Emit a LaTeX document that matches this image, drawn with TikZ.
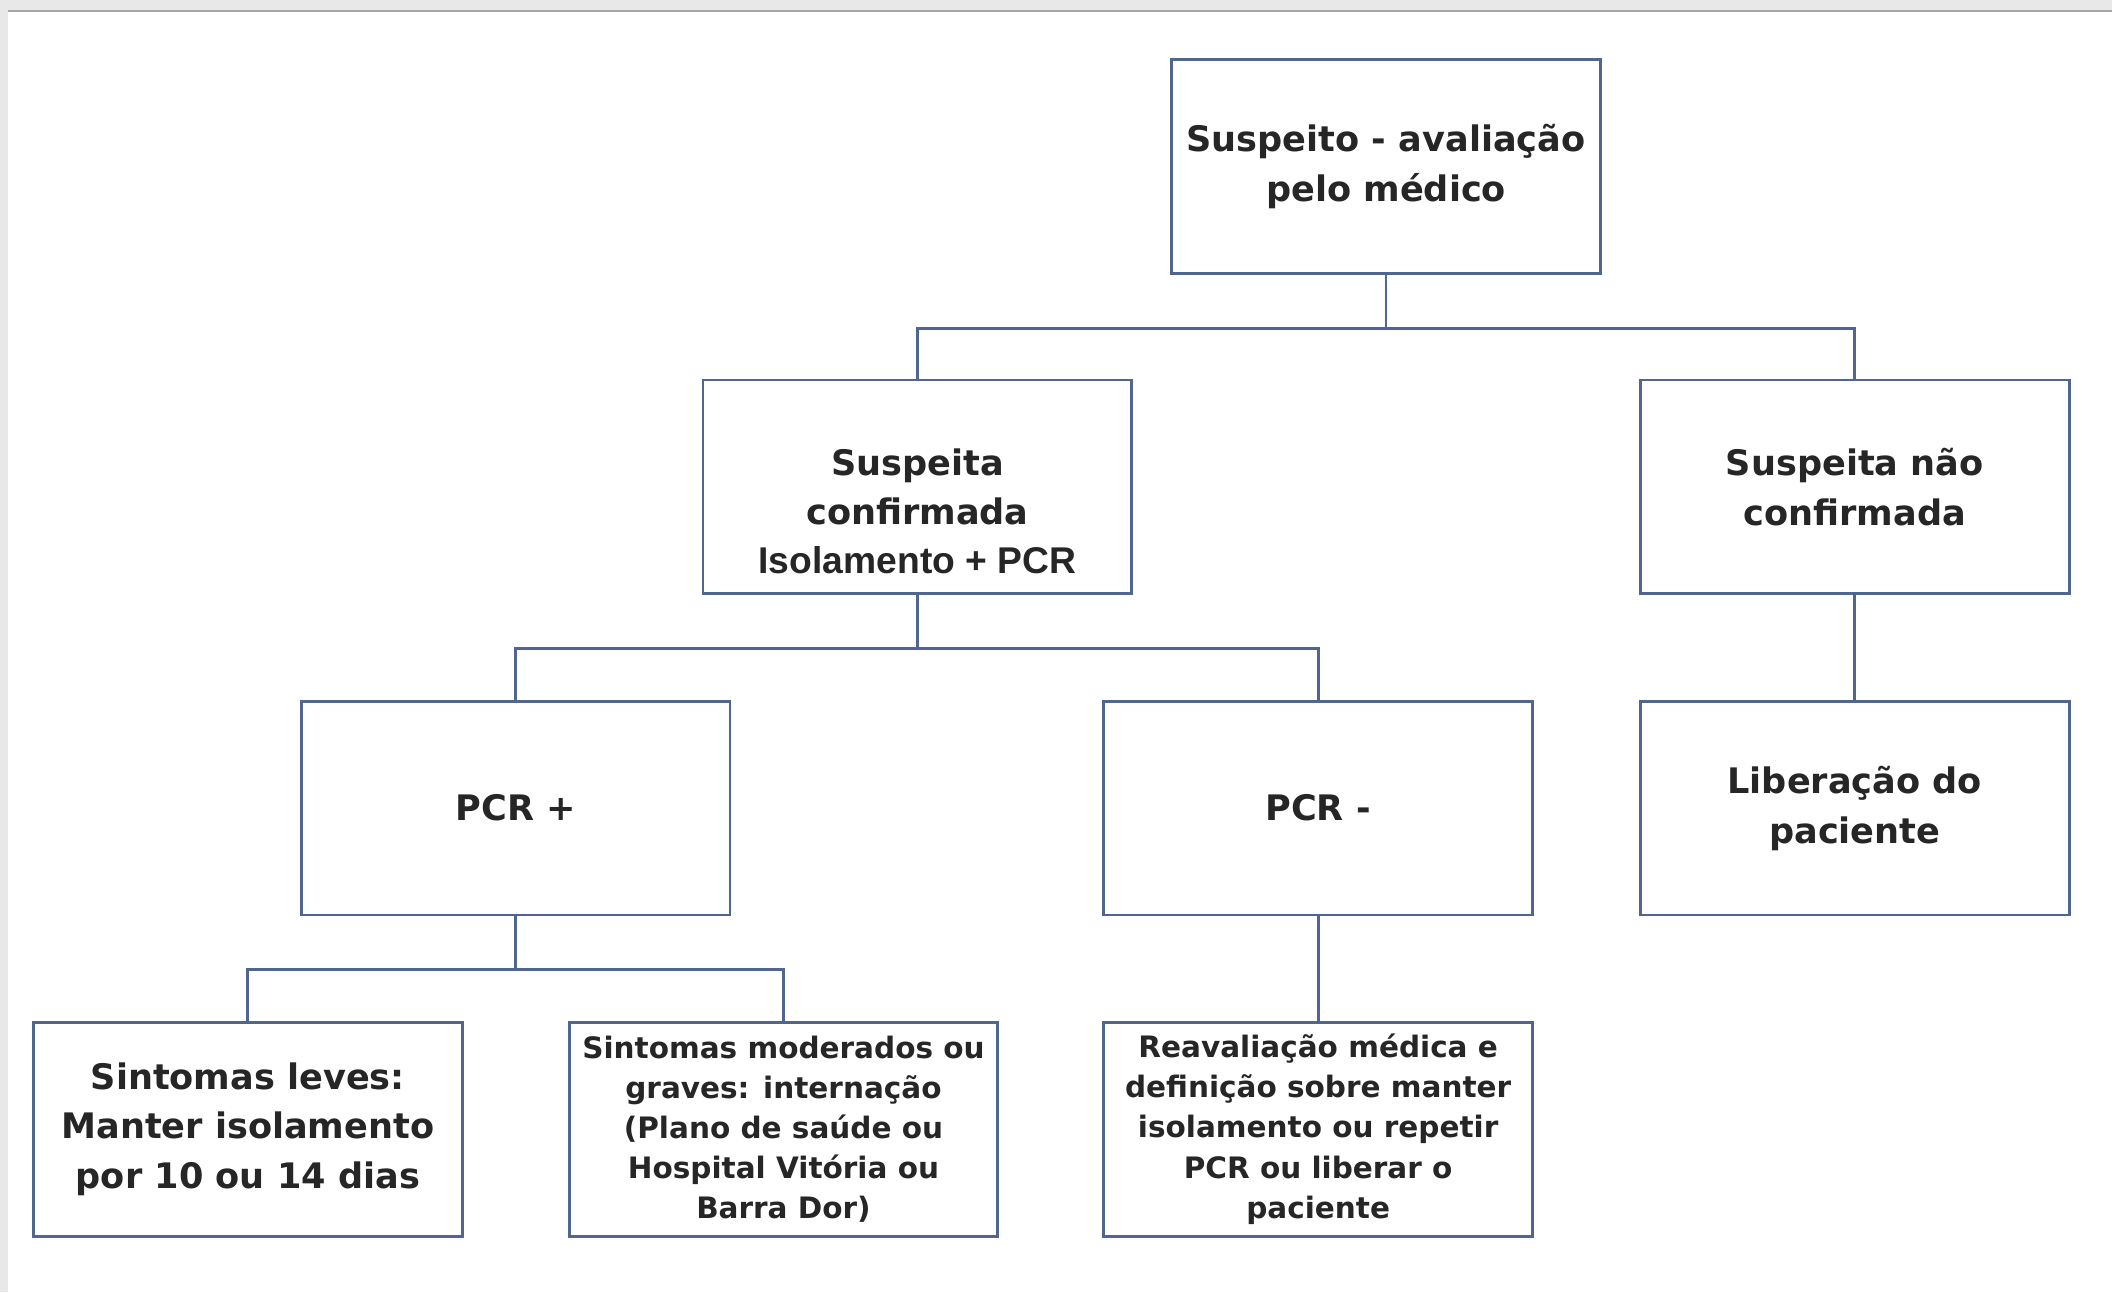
\documentclass[tikz,border=0pt]{standalone}
\usepackage{fontspec}
\setmainfont{DejaVu Sans}
\newfontfamily\arialfont{Liberation Sans}
\usepackage{tikz}
\usetikzlibrary{positioning}

\definecolor{boxline}{RGB}{80,102,142}
\definecolor{framegray}{RGB}{232,232,232}

\begin{document}
\begin{tikzpicture}[
    box/.style={rectangle, draw=boxline, line width=0.8pt, minimum width=4.29cm,
        minimum height=2.14cm, inner sep=0pt, align=center, text=black!85,
        font=\bfseries\fontsize{10}{14.2}\selectfont},
    smallbox/.style={box, font=\bfseries\fontsize{8.4}{11.4}\selectfont},
    link/.style={draw=boxline, line width=0.8pt}
]
    % Frame
    \fill[framegray] (0,0) rectangle (21.13,-12.93);
    \fill[white] (0.08,-0.11) rectangle (21.13,-12.93);
    \draw[gray!70, line width=0.8pt] (0.08,-0.11) -- (21.13,-0.11);
    \useasboundingbox (0,0) rectangle (21.13,-12.93);

    % Nodes
    \node[box] (susp) at (13.87, -1.664) {Suspeito - avaliação\\pelo médico};
    \node[box] (conf) at (9.18, -4.872) {Suspeita\\confirmada};
    \node[box] (naoconf) at (18.56, -4.872) {Suspeita não\\confirmada};
    \node[box] (pcrpos) at (5.16, -8.086) {PCR +};
    \node[box] (pcrneg) at (13.19, -8.086) {PCR -};
    \node[box] (liber) at (18.56, -8.086) {Liberação do\\paciente};
    \node[box] (leves) at (2.48, -11.30) {Sintomas leves:\\Manter isolamento\\por 10 ou 14 dias};
    \node[smallbox] (graves) at (7.84, -11.30) {Sintomas moderados ou\\graves: internação\\(Plano de saúde ou\\Hospital Vitória ou\\Barra Dor)};
    \node[smallbox] (reaval) at (13.19, -11.30) {Reavaliação médica e\\definição sobre manter\\isolamento ou repetir\\PCR ou liberar o\\paciente};

    % Additional labels
    \node[text=black!85, font=\arialfont\bfseries\fontsize{10.6}{12}\selectfont] (isol) at (9.18, -5.606) {Isolamento + PCR};

    % Edges
    \draw[link] (susp.south) -- ++(0,-0.535) -| (conf.north);
    \draw[link] (susp.south) -- ++(0,-0.535) -| (naoconf.north);
    \draw[link] (conf.south) -- ++(0,-0.535) -| (pcrpos.north);
    \draw[link] (conf.south) -- ++(0,-0.535) -| (pcrneg.north);
    \draw[link] (naoconf) -- (liber);
    \draw[link] (pcrpos.south) -- ++(0,-0.535) -| (leves.north);
    \draw[link] (pcrpos.south) -- ++(0,-0.535) -| (graves.north);
    \draw[link] (pcrneg) -- (reaval);
\end{tikzpicture}
\end{document}
